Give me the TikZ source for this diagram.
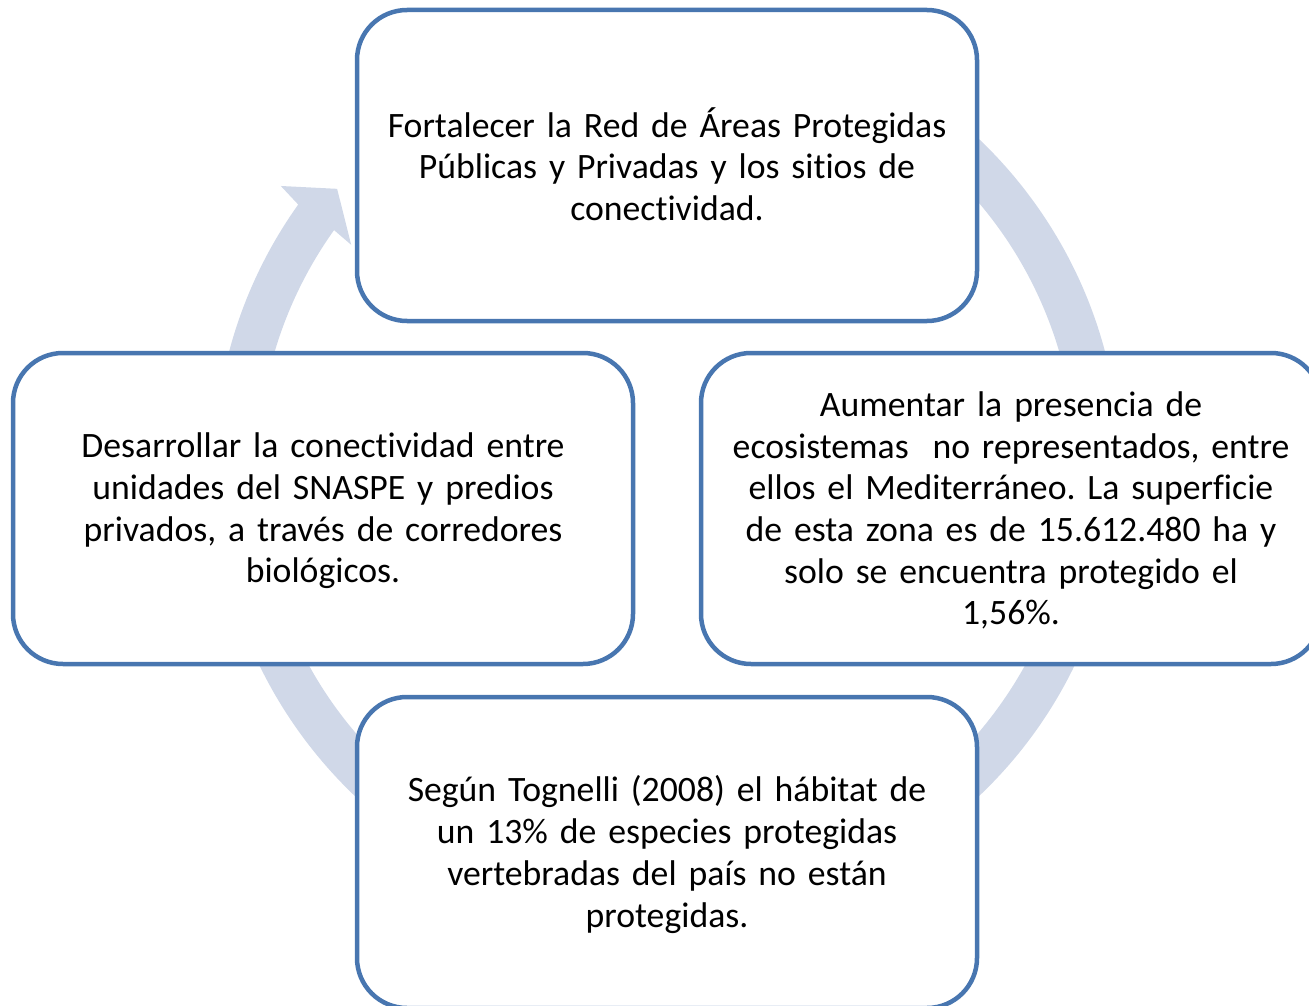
\documentclass[tikz,border=0pt]{standalone}
\usepackage{fontspec}
\setmainfont{Carlito}[Ligatures={NoCommon}]
\definecolor{boxline}{RGB}{72,118,176}
\definecolor{arrowfill}{RGB}{208,216,232}
\begin{document}
\begin{tikzpicture}[x=1pt,y=-1pt,
  cyclebox/.style={draw=boxline, line width=4.5pt, fill=white, rounded corners=50pt,
    minimum width=620pt, minimum height=311pt, inner sep=0pt},
  cycletext/.style={inner sep=0pt,
    text width=610pt, align=center, font=\fontsize{35.7}{41.7}\selectfont\frenchspacing}]
\useasboundingbox (0,0) rectangle (1309,1006);
\clip (0,0) rectangle (1309,1006);
\begin{scope}[shift={(667,467.6)}, y=1pt]
  \fill[arrowfill] (125:453) arc[start angle=125, end angle=-215.5, radius=453]
    -- (-216.1:478) -- (-220.2:431.9) -- (-215.2:386.5) -- (-215.5:409)
    arc[start angle=-215.5, end angle=125, radius=409] -- cycle;
\end{scope}
\node[cyclebox] (top) at (667,165.5) {};
\node[cyclebox] (right) at (1011,508.5) {};
\node[cyclebox] (bottom) at (667,852.5) {};
\node[cyclebox] (left) at (323,508.5) {};
\node[cycletext, yshift=1.5pt] (toptext) at (top.center) {Fortalecer la Red de Áreas Protegidas\\Públicas y Privadas y los sitios de\\conectividad.};
\node[cycletext, yshift=-2pt] (righttext) at (right.center) {Aumentar la presencia de\\ecosistemas\ \ no representados, entre\\ellos el Mediterráneo. La superficie\\de esta zona es de 15.612.480 ha y\\solo se encuentra protegido el\\1,56\%.};
\node[cycletext, yshift=-2pt] (bottomtext) at (bottom.center) {Según Tognelli (2008) el hábitat de\\un 13\% de especies protegidas\\vertebradas del país no están\\protegidas.};
\node[cycletext, yshift=-2.5pt] (lefttext) at (left.center) {Desarrollar la conectividad entre\\unidades del SNASPE y predios\\privados, a través de corredores\\biológicos.};
\end{tikzpicture}
\end{document}
